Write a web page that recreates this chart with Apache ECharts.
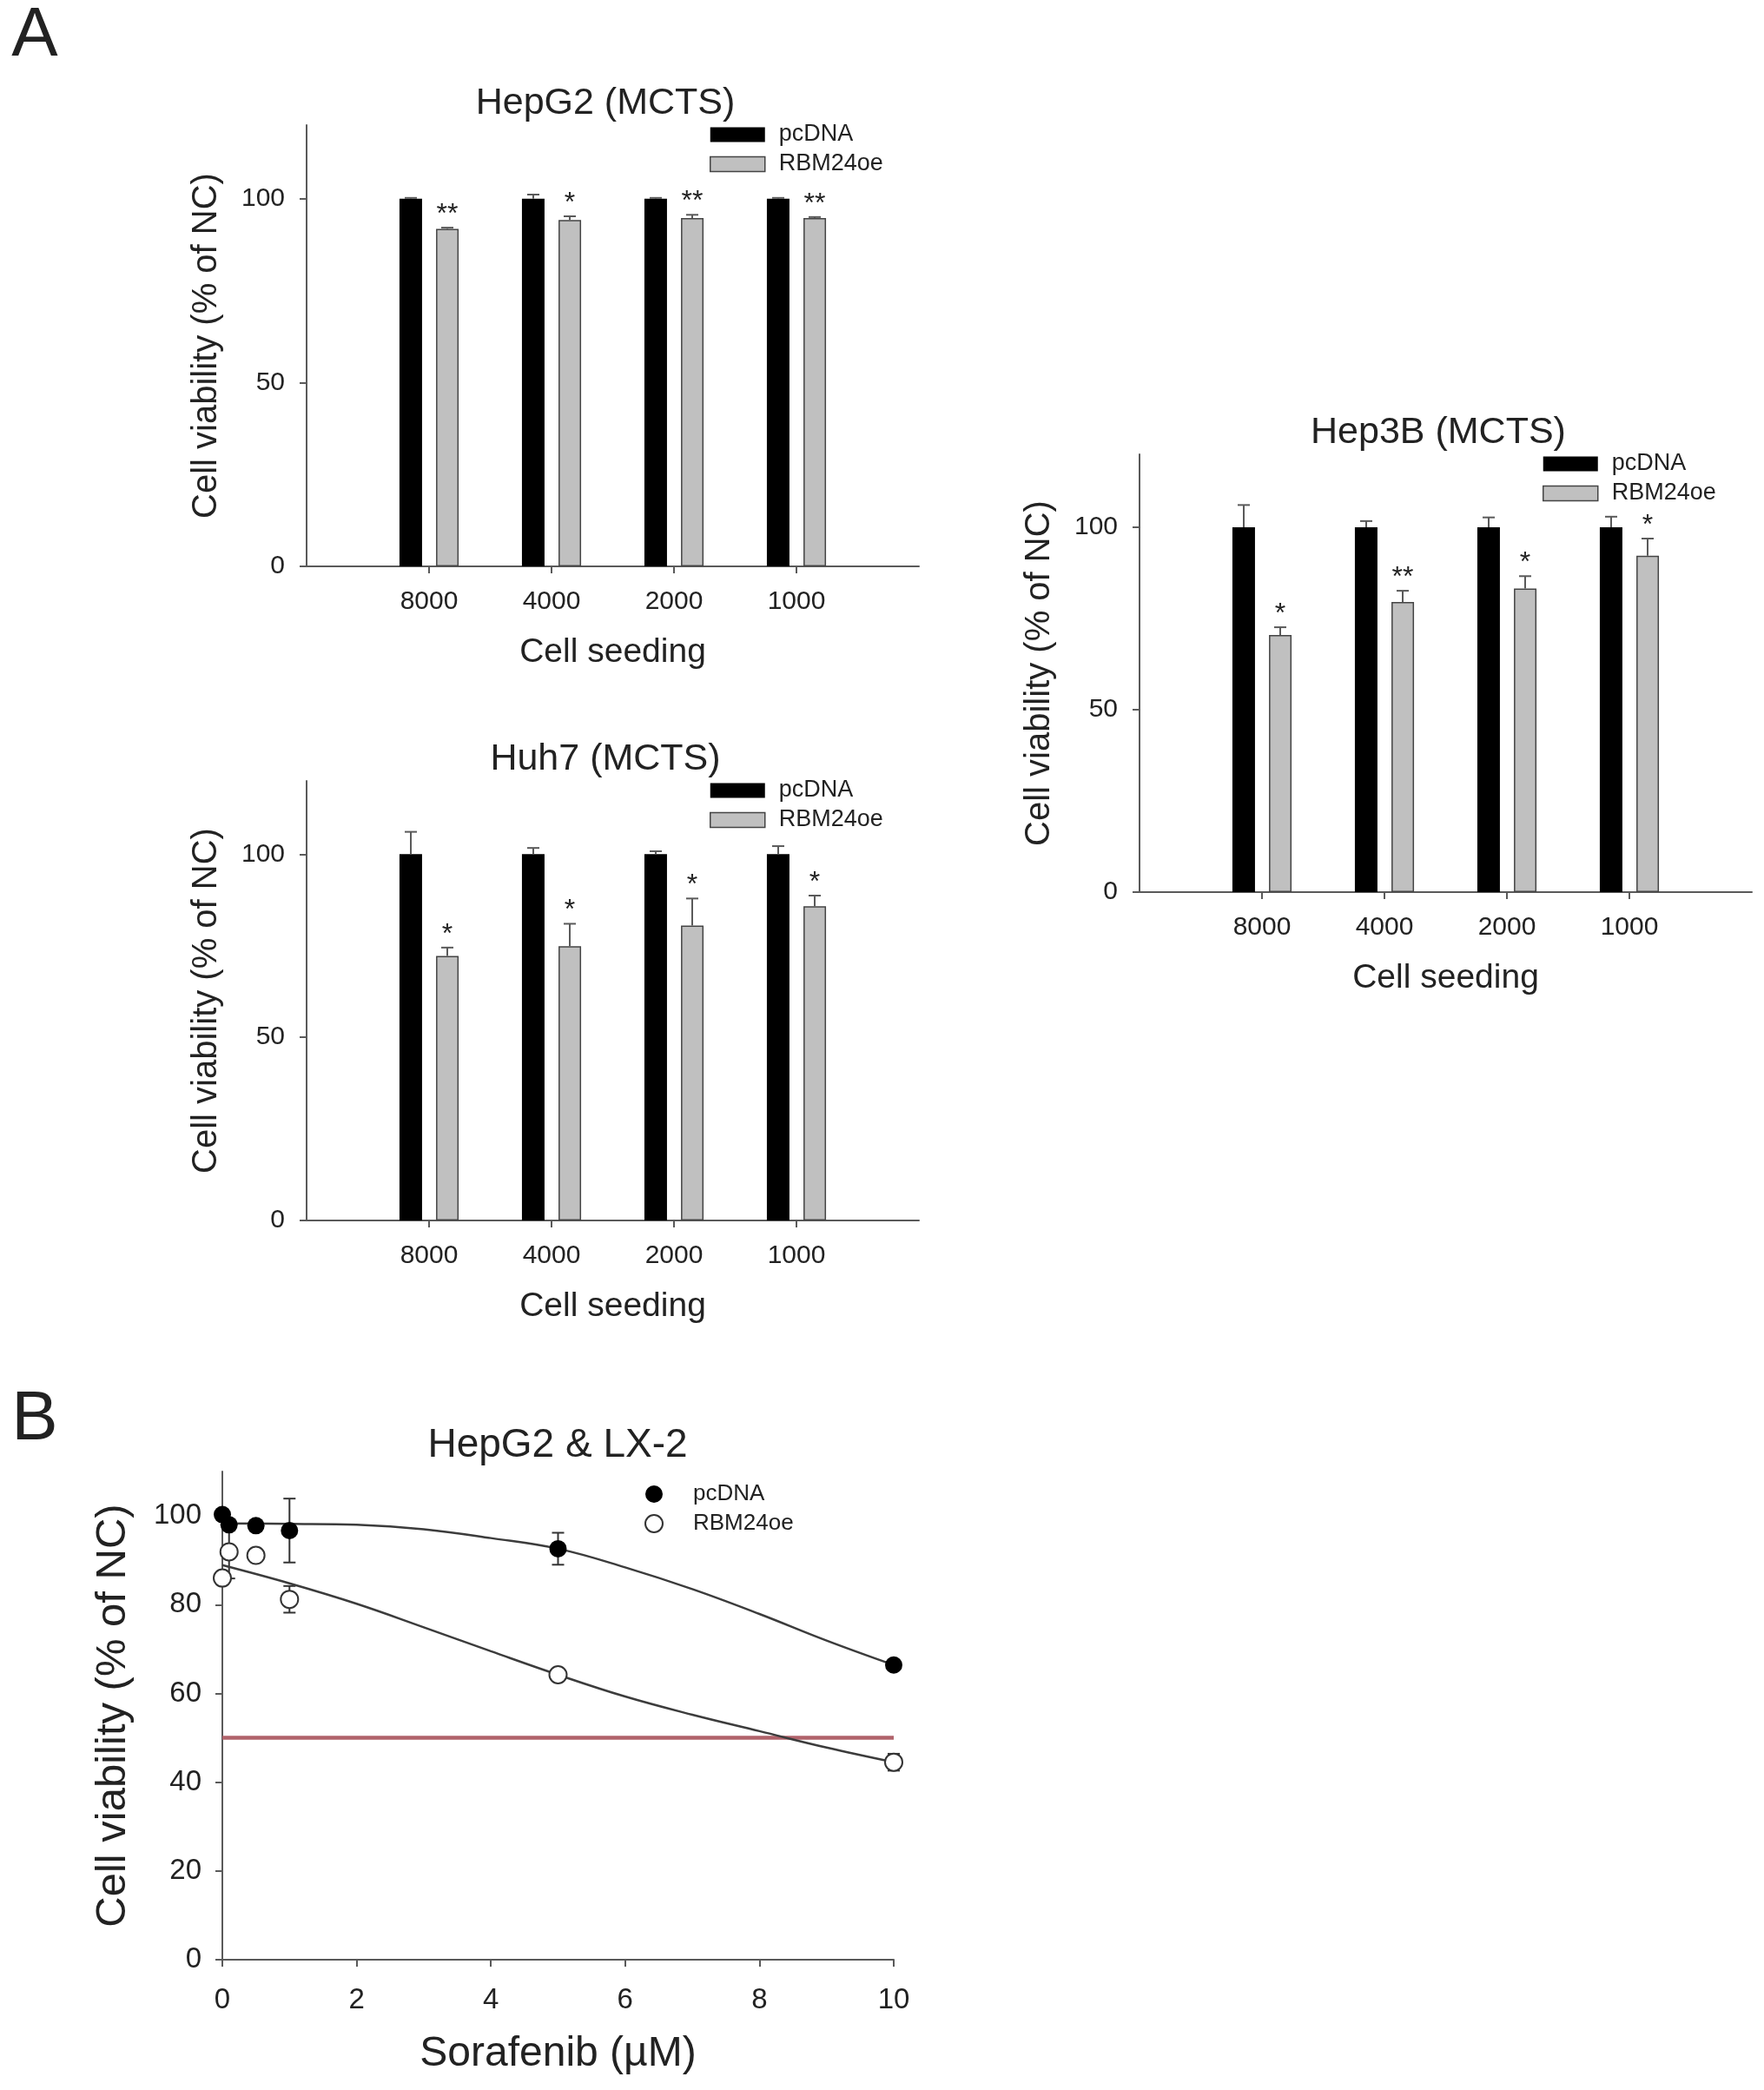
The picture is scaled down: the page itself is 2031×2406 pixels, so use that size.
<!DOCTYPE html>
<html><head><meta charset="utf-8">
<script src="https://cdn.jsdelivr.net/npm/echarts@6/dist/echarts.min.js"></script>
<style>html,body{margin:0;padding:0;background:#fff}#c{width:2031px;height:2406px}</style>
</head><body><div id="c"></div>
<script>
// ---------- DATA ----------
const categories = ['8000', '4000', '2000', '1000'];

const hepg2Pc = [100, 100, 100, 100];
const hepg2PcErr = [0.2, 1.1, 0.2, 0.2];
const hepg2Rbm = [91.8, 94.2, 94.7, 94.7];
const hepg2RbmErr = [0.3, 1.0, 0.9, 0.3];
const hepg2Sig = ['**', '*', '**', '**'];

const hep3bPc = [100, 100, 100, 100];
const hep3bPcErr = [6.1, 1.7, 2.7, 2.9];
const hep3bRbm = [70.5, 79.5, 83.2, 92.2];
const hep3bRbmErr = [2.1, 3.1, 3.4, 4.7];
const hep3bSig = ['*', '**', '*', '*'];

const huh7Pc = [100, 100, 100, 100];
const huh7PcErr = [6.1, 1.7, 0.8, 2.2];
const huh7Rbm = [72.2, 74.9, 80.5, 85.8];
const huh7RbmErr = [2.3, 6.1, 7.4, 2.9];
const huh7Sig = ['*', '*', '*', '*'];

const yTicksA = [0, 50, 100];

const doseX = [0, 0.1, 0.5, 1, 5, 10];
const pcdnaY = [100.3, 98.0, 97.8, 96.7, 92.6, 66.4];
const pcdnaErr = [0.6, 0.6, 0.4, 7.2, 3.6, 0.8];
const rbmY = [86.0, 91.9, 91.1, 81.2, 64.2, 44.5];
const rbmErr = [0.8, 6.0, 0.5, 3.0, 1.0, 1.9];

const fitX = [0, 1, 2, 3, 4, 5, 6, 7, 8, 9, 10];
const pcdnaFit = [98.3, 98.2, 98.0, 97.0, 95.0, 92.6, 88.4, 83.5, 77.9, 71.9, 66.4];
const rbmFit = [88.9, 84.8, 80.2, 74.9, 69.5, 64.2, 59.3, 55.2, 51.5, 47.8, 44.5];

const ic50Level = 50;
const doseRange = [0, 10];
const yTicksB = [0, 20, 40, 60, 80, 100];

// ---------- STYLE ----------
const FONT = '"Liberation Sans", Arial, sans-serif';
const TXT = '#222';
const AXIS = '#5a5a5a';

const chart = echarts.init(document.getElementById('c'), null, {renderer: 'canvas'});

const grids = [], xAxes = [], yAxes = [], series = [], legends = [], graphics = [];

function txt(x, y, text, size) {
  return {type: 'text', x: x, y: y, silent: true,
    style: {text: text, font: size + 'px ' + FONT, fill: TXT,
      align: 'center', verticalAlign: 'middle', textAlign: 'center', textVerticalAlign: 'middle'}};
}

function upErrSeries(gi, vals, errs, offset, sigs) {
  return {
    type: 'custom', xAxisIndex: gi, yAxisIndex: gi, z: 4, silent: true,
    data: vals.map((v, k) => [k + 1, v, errs[k]]),
    renderItem: function (params, api) {
      const idx = api.value(0), v = api.value(1), e = api.value(2);
      const base = api.coord([idx, v]);
      const top = api.coord([idx, v + e]);
      const x = base[0] + offset;
      const ls = {stroke: AXIS, lineWidth: 2};
      const ch = [
        {type: 'line', shape: {x1: x, y1: base[1], x2: x, y2: top[1]}, style: ls},
        {type: 'line', shape: {x1: x - 7, y1: top[1], x2: x + 7, y2: top[1]}, style: ls}
      ];
      if (sigs) {
        ch.push({type: 'text', x: x, y: top[1] - 15,
          style: {text: sigs[params.dataIndex], font: '32px ' + FONT, fill: TXT,
            align: 'center', verticalAlign: 'middle', textAlign: 'center', textVerticalAlign: 'middle'}});
      }
      return {type: 'group', children: ch};
    }
  };
}

const panels = [
  {title: 'HepG2 (MCTS)', left: 353, top: 144, height: 508, pc: hepg2Pc, pcErr: hepg2PcErr, rbm: hepg2Rbm, rbmErr: hepg2RbmErr, sig: hepg2Sig},
  {title: 'Hep3B (MCTS)', left: 1312, top: 523, height: 504, pc: hep3bPc, pcErr: hep3bPcErr, rbm: hep3bRbm, rbmErr: hep3bRbmErr, sig: hep3bSig},
  {title: 'Huh7 (MCTS)', left: 353, top: 899, height: 506, pc: huh7Pc, pcErr: huh7PcErr, rbm: huh7Rbm, rbmErr: huh7RbmErr, sig: huh7Sig}
];
const catData = [''].concat(categories, ['']);
const pad = arr => [null].concat(arr, [null]);

panels.forEach((p, i) => {
  grids.push({left: p.left, top: p.top, width: 705, height: p.height, containLabel: false, outerBoundsMode: 'none'});
  xAxes.push({
    type: 'category', gridIndex: i, data: catData, boundaryGap: false,
    axisLine: {lineStyle: {color: AXIS, width: 2}},
    axisTick: {show: true, length: 8, interval: (idx, v) => v !== '', lineStyle: {color: AXIS, width: 2}},
    axisLabel: {interval: 0, margin: 26, fontSize: 30, color: TXT, fontFamily: FONT},
    splitLine: {show: false},
    name: 'Cell seeding', nameLocation: 'middle', nameGap: 80,
    nameTextStyle: {fontSize: 39, color: TXT, fontFamily: FONT}
  });
  yAxes.push({
    type: 'value', gridIndex: i, min: 0, max: 120, interval: 50,
    axisLine: {show: true, lineStyle: {color: AXIS, width: 2}},
    axisTick: {show: true, length: 8, customValues: yTicksA, lineStyle: {color: AXIS, width: 2}},
    axisLabel: {customValues: yTicksA, margin: 25, fontSize: 30, color: TXT, fontFamily: FONT},
    splitLine: {show: false},
    name: 'Cell viability (% of NC)', nameLocation: 'middle', nameGap: 95,
    nameTextStyle: {fontSize: 40, color: TXT, fontFamily: FONT}
  });
  series.push({type: 'bar', name: 'pcDNA', xAxisIndex: i, yAxisIndex: i, data: pad(p.pc),
    barWidth: 26, barGap: '62%', itemStyle: {color: '#000'}, z: 2, silent: true});
  series.push({type: 'bar', name: 'RBM24oe', xAxisIndex: i, yAxisIndex: i, data: pad(p.rbm),
    barWidth: 26, barGap: '62%', itemStyle: {color: '#c0c0c0', borderColor: '#444', borderWidth: 1.5}, z: 2, silent: true});
  series.push(upErrSeries(i, p.pc, p.pcErr, -21, null));
  series.push(upErrSeries(i, p.rbm, p.rbmErr, 21, p.sig));
  legends.push({
    left: p.left + 464, top: p.top + 11 - 13.5, orient: 'vertical', padding: 0,
    itemGap: 7, itemWidth: 63, itemHeight: 17, selectedMode: false,
    data: [
      {name: 'pcDNA', icon: 'rect', itemStyle: {color: '#000', borderWidth: 0}},
      {name: 'RBM24oe', icon: 'rect', itemStyle: {color: '#c0c0c0', borderColor: '#444', borderWidth: 1.5}}
    ],
    textStyle: {fontSize: 27, lineHeight: 27, color: TXT, fontFamily: FONT, padding: [0, 0, 0, 11]}
  });
  graphics.push(txt(p.left + 344, p.top - 25, p.title, 43));
});

// ---------- Panel B ----------
const gB = 3;
grids.push({left: 256, top: 1694, width: 773, height: 562, containLabel: false, outerBoundsMode: 'none'});
xAxes.push({
  type: 'value', gridIndex: gB, min: 0, max: 10, interval: 2,
  axisLine: {show: true, onZero: false, lineStyle: {color: AXIS, width: 2}},
  axisTick: {show: true, length: 8, lineStyle: {color: AXIS, width: 2}},
  axisLabel: {margin: 30, fontSize: 33, color: TXT, fontFamily: FONT},
  splitLine: {show: false},
  name: 'Sorafenib (µM)', nameLocation: 'middle', nameGap: 85,
  nameTextStyle: {fontSize: 48, color: TXT, fontFamily: FONT}
});
yAxes.push({
  type: 'value', gridIndex: gB, min: 0, max: 110, interval: 20,
  axisLine: {show: true, onZero: false, lineStyle: {color: AXIS, width: 2}},
  axisTick: {show: true, length: 8, customValues: yTicksB, lineStyle: {color: AXIS, width: 2}},
  axisLabel: {customValues: yTicksB, margin: 24, fontSize: 33, color: TXT, fontFamily: FONT},
  splitLine: {show: false},
  name: 'Cell viability (% of NC)', nameLocation: 'middle', nameGap: 101,
  nameTextStyle: {fontSize: 49, color: TXT, fontFamily: FONT}
});

function bothErrSeries(xs, ys, errs) {
  return {
    type: 'custom', xAxisIndex: gB, yAxisIndex: gB, z: 2, silent: true, clip: false,
    data: xs.map((x, k) => [x, ys[k], errs[k]]),
    renderItem: function (params, api) {
      const x = api.value(0), v = api.value(1), e = api.value(2);
      const hi = api.coord([x, v + e]);
      const lo = api.coord([x, v - e]);
      const ls = {stroke: '#333', lineWidth: 2};
      return {type: 'group', children: [
        {type: 'line', shape: {x1: hi[0], y1: hi[1], x2: lo[0], y2: lo[1]}, style: ls},
        {type: 'line', shape: {x1: hi[0] - 7, y1: hi[1], x2: hi[0] + 7, y2: hi[1]}, style: ls},
        {type: 'line', shape: {x1: lo[0] - 7, y1: lo[1], x2: lo[0] + 7, y2: lo[1]}, style: ls}
      ]};
    }
  };
}

series.push({type: 'line', name: 'IC50', xAxisIndex: gB, yAxisIndex: gB, silent: true,
  data: doseRange.map(x => [x, ic50Level]), symbol: 'none', z: 1,
  lineStyle: {color: '#b0626a', width: 4.5}});
series.push({type: 'line', name: 'pcDNA fit', xAxisIndex: gB, yAxisIndex: gB, silent: true,
  data: fitX.map((x, k) => [x, pcdnaFit[k]]), smooth: 0.4, symbol: 'none', z: 3,
  lineStyle: {color: '#3c3c3c', width: 2.5}});
series.push({type: 'line', name: 'RBM24oe fit', xAxisIndex: gB, yAxisIndex: gB, silent: true,
  data: fitX.map((x, k) => [x, rbmFit[k]]), smooth: 0.4, symbol: 'none', z: 3,
  lineStyle: {color: '#3c3c3c', width: 2.5}});
series.push(bothErrSeries(doseX, pcdnaY, pcdnaErr));
series.push(bothErrSeries(doseX, rbmY, rbmErr));
series.push({type: 'scatter', name: 'pcDNA', xAxisIndex: gB, yAxisIndex: gB, silent: true, clip: false,
  data: doseX.map((x, k) => [x, pcdnaY[k]]), symbol: 'circle', symbolSize: 20, z: 5,
  itemStyle: {color: '#000', opacity: 1}});
series.push({type: 'scatter', name: 'RBM24oe', xAxisIndex: gB, yAxisIndex: gB, silent: true, clip: false,
  data: doseX.map((x, k) => [x, rbmY[k]]), symbol: 'circle', symbolSize: 20, z: 5,
  itemStyle: {color: '#fff', borderColor: '#333', borderWidth: 2, opacity: 1}});

legends.push({
  left: 742, top: 1707, orient: 'vertical', padding: 0, itemGap: 8,
  itemWidth: 20, itemHeight: 20, selectedMode: false,
  data: [
    {name: 'pcDNA', icon: 'circle', itemStyle: {color: '#000', borderWidth: 0}},
    {name: 'RBM24oe', icon: 'circle', itemStyle: {color: '#fff', borderColor: '#333', borderWidth: 2}}
  ],
  textStyle: {fontSize: 26, lineHeight: 26, color: TXT, fontFamily: FONT, padding: [0, 0, 0, 30]}
});

graphics.push(txt(642, 1664, 'HepG2 & LX-2', 46));
graphics.push(txt(40, 42, 'A', 80));
graphics.push(txt(40, 1635, 'B', 80));

chart.setOption({
  animation: false,
  backgroundColor: '#fff',
  grid: grids,
  xAxis: xAxes,
  yAxis: yAxes,
  legend: legends,
  series: series,
  graphic: {elements: graphics},
  tooltip: {show: false}
});
</script>
</body></html>
